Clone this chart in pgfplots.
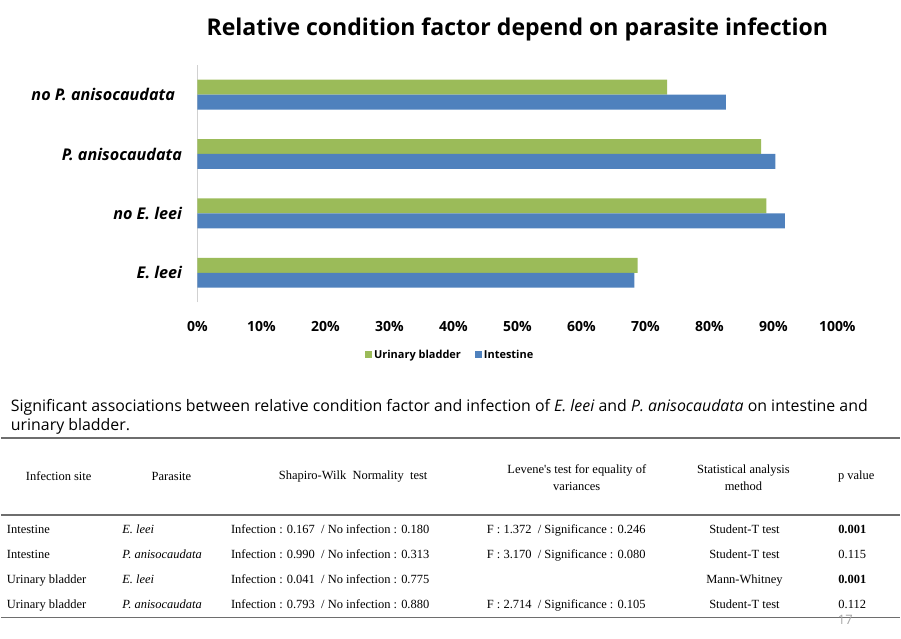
\documentclass[border=0pt]{standalone}
\usepackage{pgfplots}
\pgfplotsset{compat=1.18}
\usepackage{fontspec}
\setmainfont{Open Sans}
\newfontfamily\tabfont{Liberation Serif}
\definecolor{ubgreen}{HTML}{9BBB59}
\definecolor{intblue}{HTML}{4F81BD}
\definecolor{rulegray}{HTML}{6E6E6E}
\begin{document}
\begin{tikzpicture}
\path (0pt,0pt) rectangle (901pt,-640pt);
% title
\node[font=\bfseries\fontsize{23.1}{27}\selectfont] at (517.5pt,-29pt) {Relative condition factor depend on parasite infection};
\begin{axis}[
  at={(197pt,-303pt)}, anchor=south west,
  scale only axis, width=641pt, height=238pt,
  xmin=0, xmax=100, ymin=-0.5, ymax=3.5,
  xbar, bar width=15pt,
  axis x line*=bottom, axis y line*=left,
  x axis line style={draw=none},
  y axis line style={draw=black!18, line width=0.8pt},
  major tick length=0pt,
  ytick={0,1,2,3},
  yticklabels={E. leei, no E. leei, P. anisocaudata, {no P. anisocaudata\rule{7pt}{0pt}}},
  yticklabel style={font=\bfseries\itshape\fontsize{16.2}{19}\selectfont, xshift=-12pt},
  xtick={0,10,...,100},
  xticklabels={0\%,10\%,20\%,30\%,40\%,50\%,60\%,70\%,80\%,90\%,100\%},
  xticklabel style={font=\bfseries\fontsize{14}{17}\selectfont, yshift=-15pt},
  legend style={at={(0.395,-0.22)}, anchor=center, draw=none, legend columns=2,
    font=\bfseries\fontsize{11}{14}\selectfont, /tikz/every even column/.append style={column sep=12pt}},
  legend image code/.code={\fill[#1] (0pt,-3.5pt) rectangle (7pt,3.5pt);},
]
\addplot[fill=ubgreen, draw=none, bar shift=7.5pt] coordinates {(68.8,0) (88.9,1) (88.1,2) (73.4,3)};
\addplot[fill=intblue, draw=none, bar shift=-7.5pt] coordinates {(68.3,0) (91.8,1) (90.3,2) (82.6,3)};
\legend{Urinary bladder, Intestine}
\end{axis}
% caption
\node[anchor=base west, font=\fontsize{15.9}{18}\selectfont, inner sep=0pt] at (10pt,-412pt) {Significant associations between relative condition factor and infection of \textit{E. leei} and \textit{P. anisocaudata} on intestine and};
\node[anchor=base west, font=\fontsize{15.9}{18}\selectfont, inner sep=0pt] at (10pt,-431pt) {urinary bladder.};
% rules
\draw[rulegray, line width=1.6pt] (0pt,-439pt) -- (901pt,-439pt);
\draw[rulegray, line width=1.6pt] (0pt,-516pt) -- (901pt,-516pt);
\draw[rulegray, line width=1.6pt] (0pt,-618.5pt) -- (901pt,-618.5pt);
% header
\begin{scope}[every node/.style={font=\tabfont\fontsize{12.5}{15}\selectfont, inner sep=0pt, align=center}]
\node at (58pt,-477.5pt) {Infection site};
\node at (171pt,-477.5pt) {Parasite};
\node at (353pt,-477.5pt) {Shapiro-Wilk\ \ Normality\ \ test};
\node at (577pt,-478.5pt) {Levene's test for equality of\\[2pt] variances};
\node at (744pt,-478.5pt) {Statistical analysis\\[2pt] method};
\node at (857pt,-477.5pt) {p value};
% rows (baselines)
\node[anchor=base west] at (6pt,-534.5pt) {Intestine};
\node[anchor=base west] at (6pt,-559.5pt) {Intestine};
\node[anchor=base west] at (6pt,-585pt) {Urinary bladder};
\node[anchor=base west] at (6pt,-610pt) {Urinary bladder};
\node[anchor=base west] at (121.5pt,-534.5pt) {\textit{E. leei}};
\node[anchor=base west] at (121.5pt,-559.5pt) {\textit{P. anisocaudata}};
\node[anchor=base west] at (121.5pt,-585pt) {\textit{E. leei}};
\node[anchor=base west] at (121.5pt,-610pt) {\textit{P. anisocaudata}};
\node[anchor=base west] at (230.5pt,-534.5pt) {Infection : 0.167\ \ / No infection : 0.180};
\node[anchor=base west] at (230.5pt,-559.5pt) {Infection : 0.990\ \ / No infection : 0.313};
\node[anchor=base west] at (230.5pt,-585pt) {Infection : 0.041\ \ / No infection : 0.775};
\node[anchor=base west] at (230.5pt,-610pt) {Infection : 0.793\ \ / No infection : 0.880};
\node[anchor=base] at (566.5pt,-534.5pt) {F : 1.372\ \ / Significance\ : 0.246};
\node[anchor=base] at (566.5pt,-559.5pt) {F : 3.170\ \ / Significance\ : 0.080};
\node[anchor=base] at (566.5pt,-610pt) {F : 2.714\ \ / Significance\ : 0.105};
\node[anchor=base] at (745pt,-534.5pt) {Student-T test};
\node[anchor=base] at (745pt,-559.5pt) {Student-T test};
\node[anchor=base] at (745pt,-585pt) {Mann-Whitney};
\node[anchor=base] at (745pt,-610pt) {Student-T test};
\node[anchor=base] at (853pt,-534.5pt) {\textbf{0.001}};
\node[anchor=base] at (853pt,-559.5pt) {0.115};
\node[anchor=base] at (853pt,-585pt) {\textbf{0.001}};
\node[anchor=base] at (853pt,-610pt) {0.112};
\end{scope}
\node[text=black!35, font=\fontsize{13}{15}\selectfont] at (846pt,-621pt) {17};
\end{tikzpicture}
\end{document}
